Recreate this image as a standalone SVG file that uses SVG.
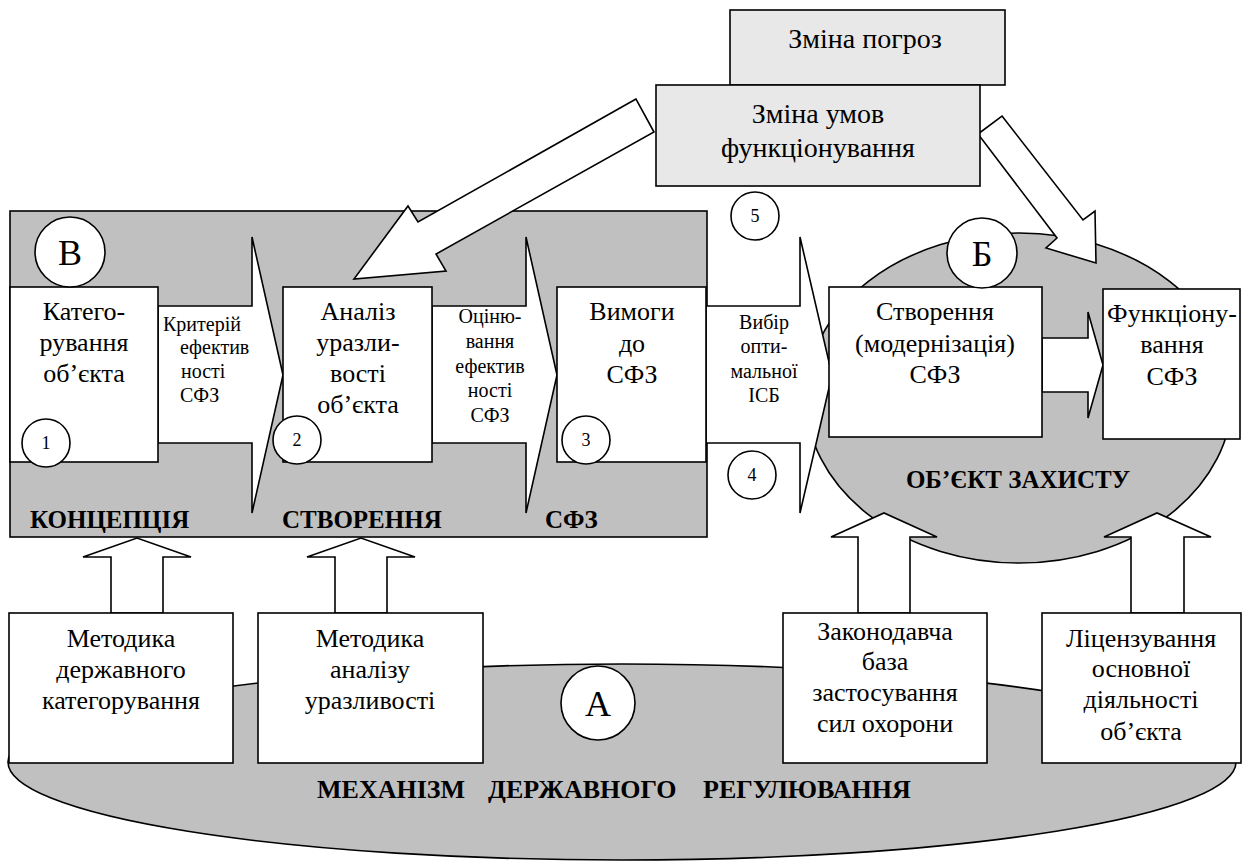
<svg xmlns="http://www.w3.org/2000/svg" width="1243" height="863" viewBox="0 0 1243 863">
<style>
.g{fill:#c0c0c0;stroke:#000;stroke-width:1.6}
.w{fill:#fff;stroke:#000;stroke-width:1.6}
.l{fill:#e8e8e8;stroke:#000;stroke-width:1.6}
.a{fill:#fff;stroke:#000;stroke-width:1.6;stroke-linejoin:miter}
text{font-family:"Liberation Serif","Times New Roman",serif;fill:#000}
.t{font-size:26px;text-anchor:middle}
.tt{font-size:28px;text-anchor:middle}
.s{font-size:20px}
.sc{font-size:20px;text-anchor:middle}
.n{font-size:18px;text-anchor:middle}
.big{font-size:36px;text-anchor:middle}
.b{font-size:25px;font-weight:bold}
</style>
<g id="stage-concept">
<rect class="g" x="10" y="211" width="697" height="326"/>
<text class="b" x="30" y="528">КОНЦЕПЦІЯ</text>
<text class="b" x="282" y="528">СТВОРЕННЯ</text>
<text class="b" x="545" y="528">СФЗ</text>
</g>
<g id="object-zone">
<ellipse class="g" cx="1019" cy="398" rx="213" ry="165"/>
<text class="b" x="1018" y="488" text-anchor="middle">ОБ’ЄКТ ЗАХИСТУ</text>
</g>
<g id="state-regulation">
<ellipse class="g" cx="622" cy="762" rx="614" ry="98"/>
<text class="b" x="317" y="798" style="font-size:26px"><tspan x="317">МЕХАНІЗМ</tspan><tspan x="488">ДЕРЖАВНОГО</tspan><tspan x="703">РЕГУЛЮВАННЯ</tspan></text>
</g>
<g id="connectors">
<polygon class="a" points="158,306 252,306 252,237 283,375 252,513 252,443 158,443"/>
<polygon class="a" points="432,306 526,306 526,237 557,375 526,513 526,443 432,443"/>
<polygon class="a" points="706,306 800,306 800,237 832,375 800,513 800,443 706,443"/>
<polygon class="a" points="1042,338 1088,338 1088,312 1103,365 1088,418 1088,392 1042,392"/>
<polygon class="a" points="111,613 111,557 83,557 137,538 191,557 163,557 163,613"/>
<polygon class="a" points="335,613 335,557 307,557 361,538 415,557 387,557 387,613"/>
<polygon class="a" points="858,613 858,537 831,537 884,513 937,537 910,537 910,613"/>
<polygon class="a" points="1131,613 1131,537 1104,537 1157,513 1211,537 1184,537 1184,613"/>
<polygon class="a" points="636,99 418,222 408,206 354,279 446,271 436,254 654,132"/>
<polygon class="a" points="1002,116 1083,220 1095,211 1096,263 1046,248 1057,238 978,134"/>
<text class="s" x="163" y="331">Критерій</text>
<text class="s" x="180" y="354">ефектив</text>
<text class="s" x="181" y="378">ності</text>
<text class="s" x="180" y="402">СФЗ</text>
<text class="sc" x="490" y="323">Оціню-</text>
<text class="sc" x="490" y="348">вання</text>
<text class="sc" x="490" y="373">ефектив</text>
<text class="sc" x="490" y="397">ності</text>
<text class="sc" x="490" y="422">СФЗ</text>
<text class="sc" x="764" y="329">Вибір</text>
<text class="sc" x="764" y="353">опти-</text>
<text class="sc" x="764" y="378">мальної</text>
<text class="sc" x="764" y="402">ІСБ</text>
</g>
<g id="threats">
<rect class="l" x="730" y="10" width="275" height="75"/>
<text class="tt" x="865" y="48">Зміна погроз</text>
</g>
<g id="conditions">
<rect class="l" x="656" y="85" width="324" height="101"/>
<text class="tt" x="818" y="123">Зміна умов</text>
<text class="tt" x="818" y="157">функціонування</text>
</g>
<g id="node-categorization">
<rect class="w" x="10" y="287" width="148" height="175"/>
<text class="t" x="84" y="320">Катего-</text>
<text class="t" x="84" y="351">рування</text>
<text class="t" x="84" y="382">об’єкта</text>
<circle class="w" cx="46" cy="443" r="24"/>
<text class="n" x="46" y="449">1</text>
</g>
<g id="node-analysis">
<rect class="w" x="283" y="287" width="149" height="175"/>
<text class="t" x="358" y="320">Аналіз</text>
<text class="t" x="358" y="351">уразли-</text>
<text class="t" x="358" y="382">вості</text>
<text class="t" x="358" y="413">об’єкта</text>
<circle class="w" cx="297" cy="440" r="24"/>
<text class="n" x="297" y="446">2</text>
</g>
<g id="node-requirements">
<rect class="w" x="557" y="287" width="149" height="175"/>
<text class="t" x="632" y="320">Вимоги</text>
<text class="t" x="632" y="352">до</text>
<text class="t" x="632" y="383">СФЗ</text>
<circle class="w" cx="586" cy="440" r="24"/>
<text class="n" x="586" y="446">3</text>
</g>
<g id="node-creation">
<rect class="w" x="829" y="287" width="213" height="150"/>
<text class="t" x="935" y="320">Створення</text>
<text class="t" x="935" y="352">(модернізація)</text>
<text class="t" x="935" y="383">СФЗ</text>
</g>
<g id="node-operation">
<rect class="w" x="1103" y="289" width="137" height="150"/>
<text class="t" x="1172" y="322">Функціону-</text>
<text class="t" x="1172" y="353">вання</text>
<text class="t" x="1172" y="385">СФЗ</text>
</g>
<g id="marker-B">
<circle class="w" cx="70" cy="252" r="35"/>
<text class="big" x="70" y="265">В</text>
</g>
<g id="marker-Be">
<circle class="w" cx="982" cy="253" r="35"/>
<text class="big" x="982" y="266">Б</text>
</g>
<g id="marker-A">
<circle class="w" cx="598" cy="703" r="37"/>
<text class="big" x="598" y="716">А</text>
</g>
<g id="marker-4">
<circle class="w" cx="752" cy="475" r="24"/>
<text class="n" x="752" y="481">4</text>
</g>
<g id="marker-5">
<circle class="w" cx="755" cy="216" r="24"/>
<text class="n" x="755" y="222">5</text>
</g>
<g id="node-method-cat">
<rect class="w" x="9" y="613" width="224" height="150"/>
<text class="t" x="121" y="647">Методика</text>
<text class="t" x="121" y="678">державного</text>
<text class="t" x="121" y="709">категорування</text>
</g>
<g id="node-method-vuln">
<rect class="w" x="258" y="613" width="225" height="150"/>
<text class="t" x="370" y="647">Методика</text>
<text class="t" x="370" y="678">аналізу</text>
<text class="t" x="370" y="709">уразливості</text>
</g>
<g id="node-law">
<rect class="w" x="783" y="613" width="204" height="150"/>
<text class="t" x="885" y="640">Законодавча</text>
<text class="t" x="885" y="670">база</text>
<text class="t" x="885" y="701">застосування</text>
<text class="t" x="885" y="732">сил охорони</text>
</g>
<g id="node-license">
<rect class="w" x="1042" y="613" width="199" height="150"/>
<text class="t" x="1141" y="647">Ліцензування</text>
<text class="t" x="1141" y="677">основної</text>
<text class="t" x="1141" y="708">діяльності</text>
<text class="t" x="1141" y="740">об’єкта</text>
</g>
</svg>
